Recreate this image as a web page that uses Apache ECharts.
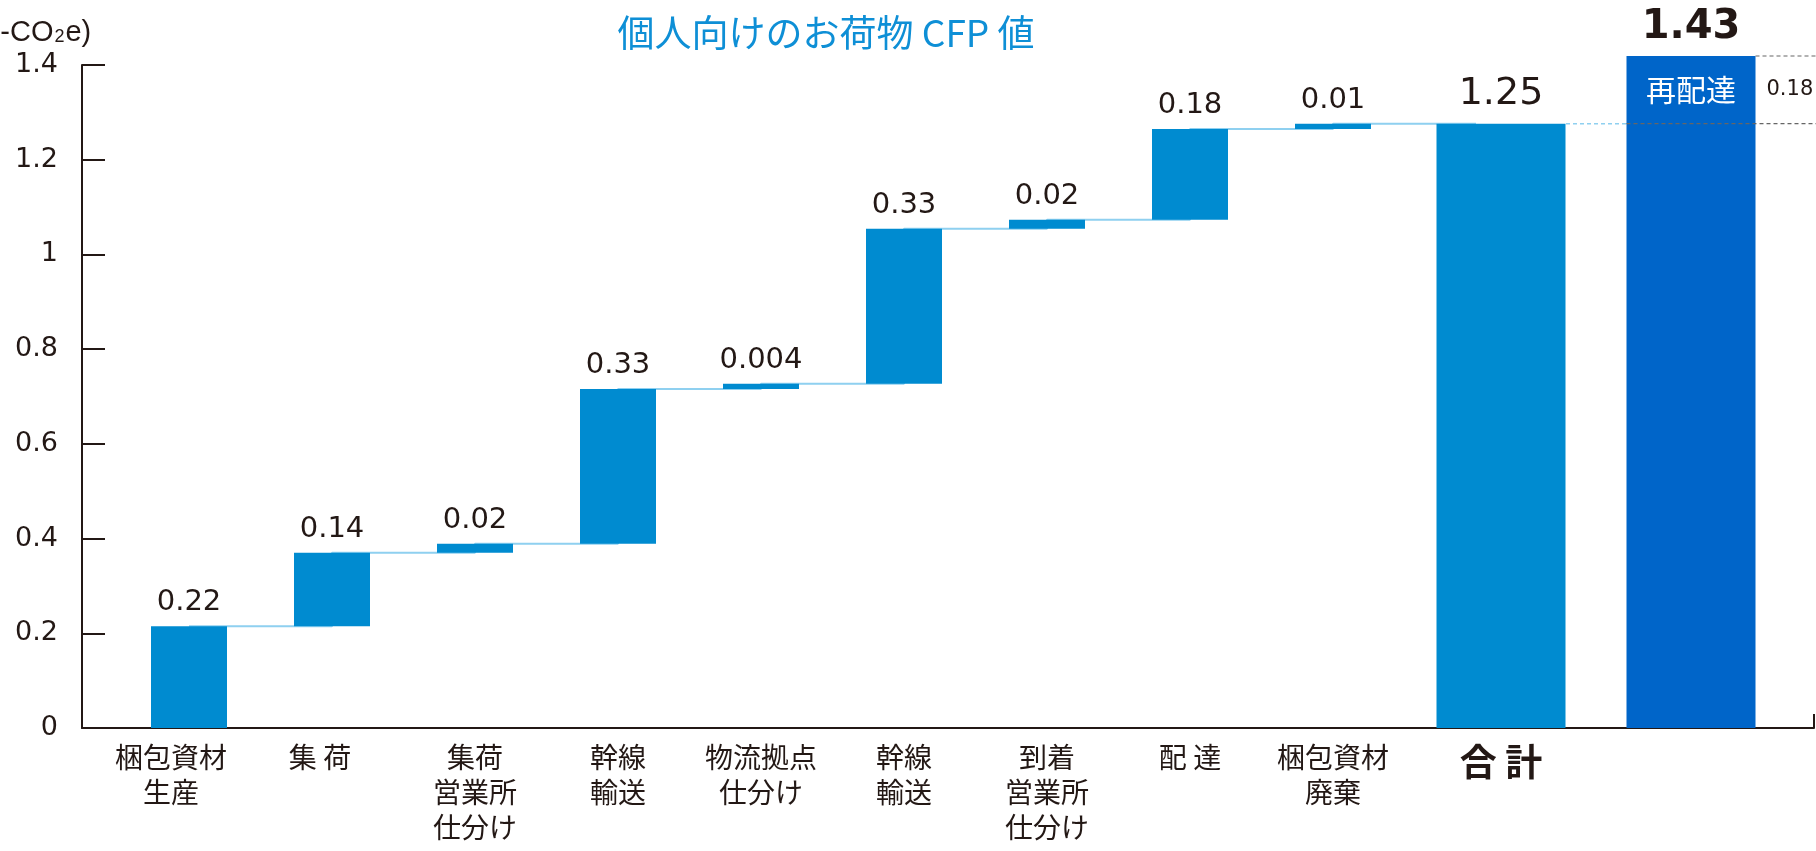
<!DOCTYPE html>
<html>
<head>
<meta charset="utf-8">
<script src="https://cdn.jsdelivr.net/npm/echarts@6/dist/echarts.min.js"></script>
<style>
  html, body { margin: 0; padding: 0; background: #fff; }
  #main { width: 1816px; height: 851px; }
</style>
</head>
<body>
<div id="main"></div>
<script>
// steps of the waterfall (bar heights as drawn, labels as printed)
const stepNames = ['梱包資材\n生産', '集 荷', '集荷\n営業所\n仕分け', '幹線\n輸送', '物流拠点\n仕分け', '幹線\n輸送', '到着\n営業所\n仕分け', '配 達', '梱包資材\n廃棄'];
const stepValues = [0.215, 0.155, 0.019, 0.327, 0.011, 0.327, 0.019, 0.192, 0.011];
const stepLabels = ['0.22', '0.14', '0.02', '0.33', '0.004', '0.33', '0.02', '0.18', '0.01'];

const totalName = '合 計';
const totalLabel = '1.25';

const redeliveryName = '再配達';
const redeliveryValue = 0.143;
const redeliveryLabel = '0.18';
const grandTotalLabel = '1.43';

const yMin = 0, yMax = 1.4, yStep = 0.2;

const titleText = '個人向けのお荷物 CFP 値';

// colours / fonts
const C_STEP = '#008bd0';
const C_REDEL = '#0065c9';
const C_LINK = '#8fd0f0';
const C_TEXT = '#231815';
const C_TITLE = '#0e8fd6';
const F_NUM = 'DejaVu Sans';
const F_JP = 'Noto Sans CJK JP';

// waterfall bases / tops
const bases = [];
const tops = [];
let acc = 0;
stepValues.forEach(v => { bases.push(acc); acc += v; tops.push(acc); });
const totalValue = acc;

// the first two category labels sit a bit left of their bars in the original
const labelPadRight = [36, 24];
const stepCategories = stepNames.map((name, i) =>
  labelPadRight[i] ? {value: name, textStyle: {padding: [0, labelPadRight[i], 0, 0]}} : name);

const TOP = 65, BOTTOM = 123;
const hiddenY = i => ({type: 'value', gridIndex: i, min: yMin, max: yMax, show: false});

const chart = echarts.init(document.getElementById('main'));
chart.setOption({
  animation: false,
  grid: [
    {left: 82, right: 2, top: TOP, bottom: BOTTOM},
    {left: 117.5, width: 1430, top: TOP, bottom: BOTTOM},
    {left: 1404.5, width: 193, top: TOP, bottom: BOTTOM},
    {left: 1566, right: 0, top: TOP, bottom: BOTTOM}
  ],
  graphic: [
    {
      type: 'text', x: 826, y: 33,
      style: {text: titleText, font: '37px "' + F_JP + '"', fill: C_TITLE, align: 'center', verticalAlign: 'middle'}
    },
    {
      type: 'text', x: -40, y: 33,
      style: {
        text: '(kg-CO{s|2}e)', font: '29px "Liberation Sans"', fill: C_TEXT, verticalAlign: 'middle',
        rich: {s: {fontSize: 18, fontFamily: 'Liberation Sans', fill: C_TEXT, padding: [9, 1, 0, 1]}}
      }
    }
  ],
  xAxis: [
    {
      gridIndex: 0, type: 'category', data: [''],
      axisLine: {lineStyle: {color: C_TEXT, width: 2}},
      axisTick: {show: true, inside: true, length: 14, lineStyle: {color: C_TEXT, width: 2}},
      axisLabel: {show: false}
    },
    {
      gridIndex: 1, type: 'category', data: [...stepCategories, ''],
      axisLine: {show: false}, axisTick: {show: false},
      axisLabel: {interval: 0, margin: 12, fontFamily: F_JP, fontSize: 28, lineHeight: 35, color: C_TEXT}
    },
    {
      gridIndex: 2, type: 'category', data: [totalName],
      axisLine: {show: false}, axisTick: {show: false},
      axisLabel: {margin: 15, fontFamily: F_JP, fontSize: 37, fontWeight: 'bold', color: C_TEXT}
    },
    {gridIndex: 3, type: 'category', data: [redeliveryName], show: false}
  ],
  yAxis: [
    {
      gridIndex: 0, type: 'value', min: yMin, max: yMax, interval: yStep,
      axisLine: {show: true, lineStyle: {color: C_TEXT, width: 2}},
      axisTick: {show: true, inside: true, length: 23, lineStyle: {color: C_TEXT, width: 2}},
      splitLine: {show: false},
      axisLabel: {margin: 24, fontFamily: F_NUM, fontSize: 27, color: C_TEXT}
    },
    hiddenY(1), hiddenY(2), hiddenY(3)
  ],
  series: [
    {
      // connectors between bar tops
      type: 'line', xAxisIndex: 1, yAxisIndex: 1, step: 'end', z: 1, silent: true,
      data: [...tops, totalValue], symbol: 'none',
      lineStyle: {color: C_LINK, width: 2}
    },
    {
      type: 'bar', xAxisIndex: 1, yAxisIndex: 1, stack: 'fall', barWidth: 76,
      data: bases, itemStyle: {color: 'transparent'}, silent: true
    },
    {
      type: 'bar', xAxisIndex: 1, yAxisIndex: 1, stack: 'fall', barWidth: 76,
      data: stepValues, itemStyle: {color: C_STEP},
      label: {
        show: true, position: 'top', distance: 9,
        formatter: p => stepLabels[p.dataIndex],
        fontFamily: F_NUM, fontSize: 29, color: C_TEXT
      }
    },
    {
      type: 'bar', xAxisIndex: 2, yAxisIndex: 2, barWidth: 129,
      data: [totalValue], itemStyle: {color: C_STEP},
      label: {
        show: true, position: 'top', distance: 11,
        formatter: () => totalLabel,
        fontFamily: F_NUM, fontSize: 38, color: C_TEXT
      }
    },
    {
      type: 'custom', xAxisIndex: 3, yAxisIndex: 3,
      data: [[0, totalValue, redeliveryValue]],
      renderItem: (params, api) => {
        const x = api.value(0);
        const base = api.value(1);
        const add = api.value(2);
        const p0 = api.coord([x, 0]);
        const pMid = api.coord([x, base]);
        const pTop = api.coord([x, base + add]);
        const w = 129;
        const l = p0[0] - w / 2, r = p0[0] + w / 2;
        const cs = params.coordSys;
        const edge = cs.x + cs.width;
        const midY = (pMid[1] + pTop[1]) / 2;
        return {
          type: 'group',
          children: [
            {type: 'rect', shape: {x: l, y: pTop[1], width: w, height: p0[1] - pTop[1]}, style: {fill: C_REDEL}},
            {type: 'line', shape: {x1: cs.x, y1: pMid[1], x2: l, y2: pMid[1]}, style: {stroke: C_LINK, lineWidth: 1.5, lineDash: [4, 3]}},
            {type: 'line', shape: {x1: l, y1: pMid[1], x2: edge, y2: pMid[1]}, style: {stroke: '#666', lineWidth: 1.2, lineDash: [4, 3]}},
            {type: 'line', shape: {x1: r, y1: pTop[1], x2: edge, y2: pTop[1]}, style: {stroke: '#666', lineWidth: 1.2, lineDash: [4, 3]}},
            {type: 'text', x: p0[0], y: midY, style: {text: redeliveryName, fill: '#fff', font: '30px "' + F_JP + '"', align: 'center', verticalAlign: 'middle'}},
            {type: 'text', x: r + 11, y: midY, style: {text: redeliveryLabel, fill: C_TEXT, font: '21px "' + F_NUM + '"', align: 'left', verticalAlign: 'middle'}},
            {type: 'text', x: p0[0], y: pTop[1] - 8, style: {text: grandTotalLabel, fill: C_TEXT, font: 'bold 40px "' + F_NUM + '"', align: 'center', verticalAlign: 'bottom'}}
          ]
        };
      }
    }
  ]
});
</script>
</body>
</html>
